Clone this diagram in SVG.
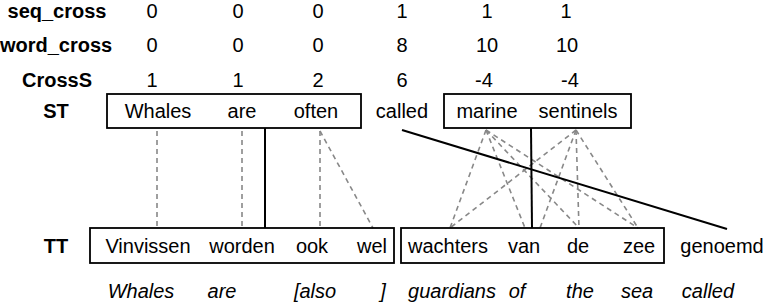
<svg xmlns="http://www.w3.org/2000/svg" width="765" height="304" viewBox="0 0 765 304">
<style>
text{font-family:"Liberation Sans",Arial,sans-serif;font-size:20px;fill:#000;text-anchor:middle}
.b{font-weight:bold}
.i{font-style:italic}
.box{fill:none;stroke:#000;stroke-width:1.8}
.al{stroke:#888;stroke-width:1.6;stroke-dasharray:5 4;fill:none}
.sol{stroke:#000;stroke-width:2;fill:none}
</style>
<rect width="765" height="304" fill="#fff"/>
<g id="row-labels">
<text class="b" x="57" y="18">seq_cross</text>
<text class="b" x="56" y="52">word_cross</text>
<text class="b" x="57" y="87">CrossS</text>
<text class="b" x="56" y="118">ST</text>
<text class="b" x="56" y="253">TT</text>
</g>
<g id="row-seq_cross">
<text x="152" y="18">0</text><text x="238" y="18">0</text><text x="318" y="18">0</text>
<text x="402" y="18">1</text><text x="487" y="18">1</text><text x="566" y="18">1</text>
</g>
<g id="row-word_cross">
<text x="152" y="52">0</text><text x="238" y="52">0</text><text x="318" y="52">0</text>
<text x="402" y="52">8</text><text x="487" y="52">10</text><text x="567" y="52">10</text>
</g>
<g id="row-CrossS">
<text x="152" y="87">1</text><text x="238" y="87">1</text><text x="318" y="87">2</text>
<text x="402" y="87">6</text><text x="484" y="87">-4</text><text x="570" y="87">-4</text>
</g>
<g id="connectors">
<line class="al" x1="157" y1="131" x2="157" y2="228"/>
<line class="al" x1="242" y1="131" x2="242" y2="228"/>
<line class="al" x1="320" y1="131" x2="320" y2="228"/>
<line class="al" x1="320" y1="131" x2="373" y2="228"/>
<line class="al" x1="486" y1="130" x2="450" y2="228"/>
<line class="al" x1="486" y1="130" x2="525" y2="228"/>
<line class="al" x1="486" y1="130" x2="579" y2="228"/>
<line class="al" x1="486" y1="130" x2="638" y2="228"/>
<line class="al" x1="576" y1="130" x2="450" y2="228"/>
<line class="al" x1="576" y1="130" x2="540" y2="228"/>
<line class="al" x1="576" y1="130" x2="579" y2="228"/>
<line class="al" x1="576" y1="130" x2="638" y2="228"/>
<line class="sol" x1="265" y1="128" x2="265" y2="228"/>
<line class="sol" x1="531" y1="128" x2="532" y2="228"/>
<line class="sol" x1="402" y1="130" x2="727" y2="229"/>
</g>
<g id="st-group1">
<rect class="box" x="107" y="94" width="254" height="34"/>
<text x="158" y="118">Whales</text>
<text x="242" y="118">are</text>
<text x="316" y="118">often</text>
</g>
<g id="st-called">
<text x="402" y="118">called</text>
</g>
<g id="st-group2">
<rect class="box" x="444" y="94" width="187" height="34"/>
<text x="487" y="118">marine</text>
<text x="578" y="118">sentinels</text>
</g>
<g id="tt-group1">
<rect class="box" x="90" y="228" width="304" height="35"/>
<text x="148" y="253">Vinvissen</text>
<text x="242" y="253">worden</text>
<text x="312" y="253">ook</text>
<text x="372" y="253">wel</text>
</g>
<g id="tt-group2">
<rect class="box" x="401" y="228" width="263" height="35"/>
<text x="448" y="253">wachters</text>
<text x="524" y="253">van</text>
<text x="578" y="253">de</text>
<text x="639" y="253">zee</text>
</g>
<g id="tt-genoemd">
<text x="722" y="253">genoemd</text>
</g>
<g id="gloss">
<text class="i" x="141" y="298">Whales</text>
<text class="i" x="222" y="298">are</text>
<text class="i" x="315" y="298">[also</text>
<text class="i" x="383" y="298">]</text>
<text class="i" x="452" y="298">guardians</text>
<text class="i" x="517" y="298">of</text>
<text class="i" x="580" y="298">the</text>
<text class="i" x="637" y="298">sea</text>
<text class="i" x="708" y="298">called</text>
</g>
</svg>
